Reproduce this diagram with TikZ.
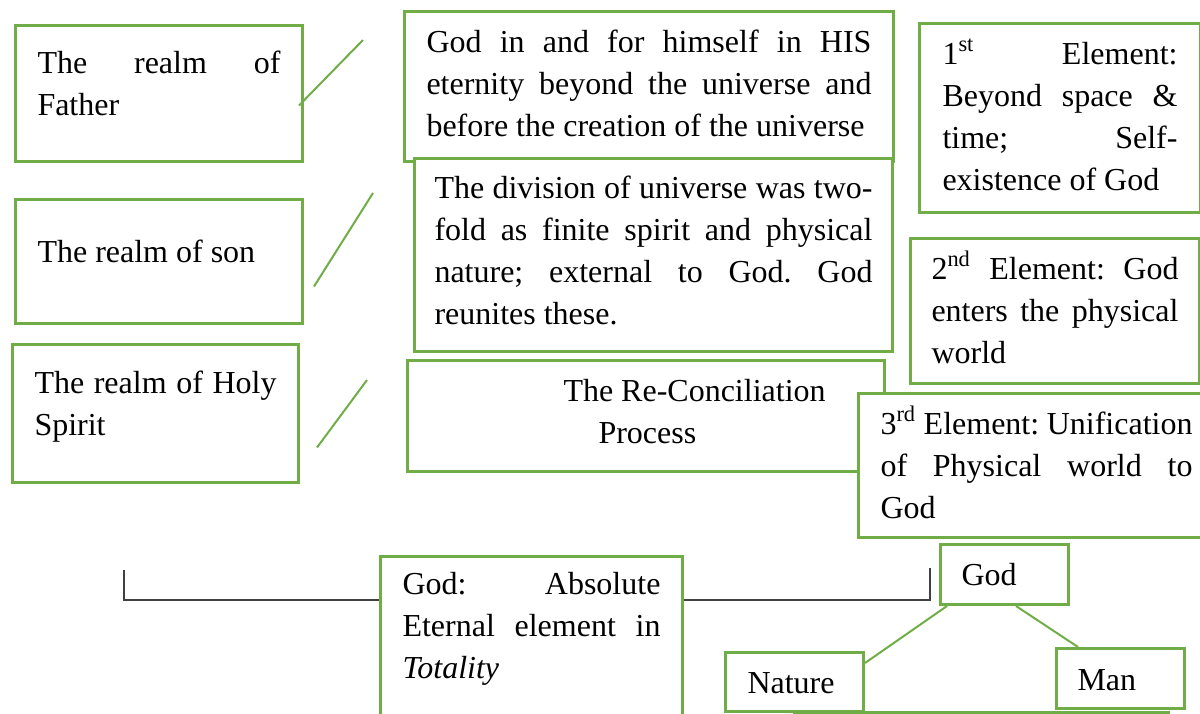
\documentclass[tikz,border=0pt]{standalone}
\usepackage{fontspec}
\setmainfont{Liberation Serif}
\usepackage{tikz}
\usetikzlibrary{positioning}
\definecolor{boxgreen}{HTML}{70AD47}
\definecolor{linegray}{HTML}{404040}
\newcommand{\jline}[1]{\makebox[\linewidth][s]{#1}\\}
\frenchspacing

\begin{document}
\begin{tikzpicture}[x=0.5pt,y=-0.5pt,
		realm/.style={draw=boxgreen,fill=white,line width=1.5pt,anchor=north west,align=flush left,
			inner ysep=0pt,inner xsep=11pt,text height=20.5pt,font=\fontsize{16}{21}\selectfont},
		tie/.style={boxgreen,line width=1pt},
		frame/.style={linegray,line width=0.7pt}]
		\useasboundingbox (0,0) rectangle (1200,713);
		\node[realm,text width=121.5pt,text height=24pt,text depth=44pt] (father) at (14,24) {\jline{The realm of}Father};
		\node[realm,text width=121.5pt,text height=31.5pt,text depth=30.5pt] (son) at (14,198) {The realm of son};
		\node[realm,text width=121pt,text height=24.5pt,text depth=44.5pt] (holy) at (11,343) {\jline{The realm of Holy}Spirit};
		\node[realm,text width=222.5pt,text depth=54.5pt] (eternity) at (403,10)
			{\jline{God in and for himself in HIS}\jline{eternity beyond the universe and}before the creation of the universe};
		\node[realm,inner xsep=10pt,text width=219pt,text height=20pt,text depth=76.5pt] (division) at (413,157)
			{\jline{The division of universe was two-}\jline{fold as finite spirit and physical}\jline{nature; external to God. God}reunites these.};
		\node[realm,text width=216.5pt,text depth=35pt] (reconcile) at (406,359)
			{\hspace*{67pt}The Re-Conciliation\\\hspace*{84.5pt}Process};
		\node[realm,inner xsep=11.5pt,text width=117.5pt,text depth=74pt] (first) at (918,22)
			{\jline{1\textsuperscript{st} Element:}\jline{Beyond space \&}\jline{time; Self-}existence of God};
		\node[realm,inner xsep=10.5pt,text width=123.5pt,text depth=52pt] (second) at (909,237)
			{\jline{2\textsuperscript{nd} Element: God}\jline{enters the physical}world};
		\node[realm,text width=156pt,text depth=51.5pt] (third) at (857,392)
			{\jline{3\textsuperscript{rd} Element: Unification}\jline{of Physical world to}God};
		\node[realm,text width=129pt,text height=19pt,text depth=81pt] (totality) at (379,555)
			{\jline{God: Absolute}\jline{Eternal element in}\textit{Totality}};
		\node[draw=boxgreen,line width=1.5pt,anchor=north west,inner sep=0pt,minimum width=187pt,minimum height=50pt] (base) at (793,711) {};
		\node[realm,inner xsep=10.5pt,text width=43pt,text depth=9.5pt] (godtop) at (939,543) {God};
		\node[realm,text width=47pt,text depth=9pt] (nature) at (724,651) {Nature};
		\node[realm,inner xsep=10.5pt,text width=43pt,text height=21pt,text depth=9pt] (man) at (1055,647) {Man};
		\coordinate (fatherend) at (363,40);
		\coordinate (sonend) at (373,193);
		\coordinate (holyend) at (367,380);
		\coordinate (leftcap) at (124,570);
		\coordinate (rightcap) at (930,568);
		\draw[tie] ([xshift=-2.5pt,yshift=-6pt]father.east) -- (fatherend);
		\draw[tie] ([xshift=5pt,yshift=-12.5pt]son.east) -- (sonend);
		\draw[tie] ([xshift=8.5pt,yshift=-17pt]holy.east) -- (holyend);
		\draw[tie] ([xshift=4pt]godtop.south west) -- ([yshift=-6pt]nature.north east);
		\draw[tie] ([xshift=38.5pt]godtop.south west) -- ([xshift=11.5pt]man.north west);
		\draw[frame] (leftcap) |- ([yshift=-22.5pt]totality.north west);
		\draw[frame] ([yshift=-22.5pt]totality.north east) -| (rightcap);
	\end{tikzpicture}
\end{document}
